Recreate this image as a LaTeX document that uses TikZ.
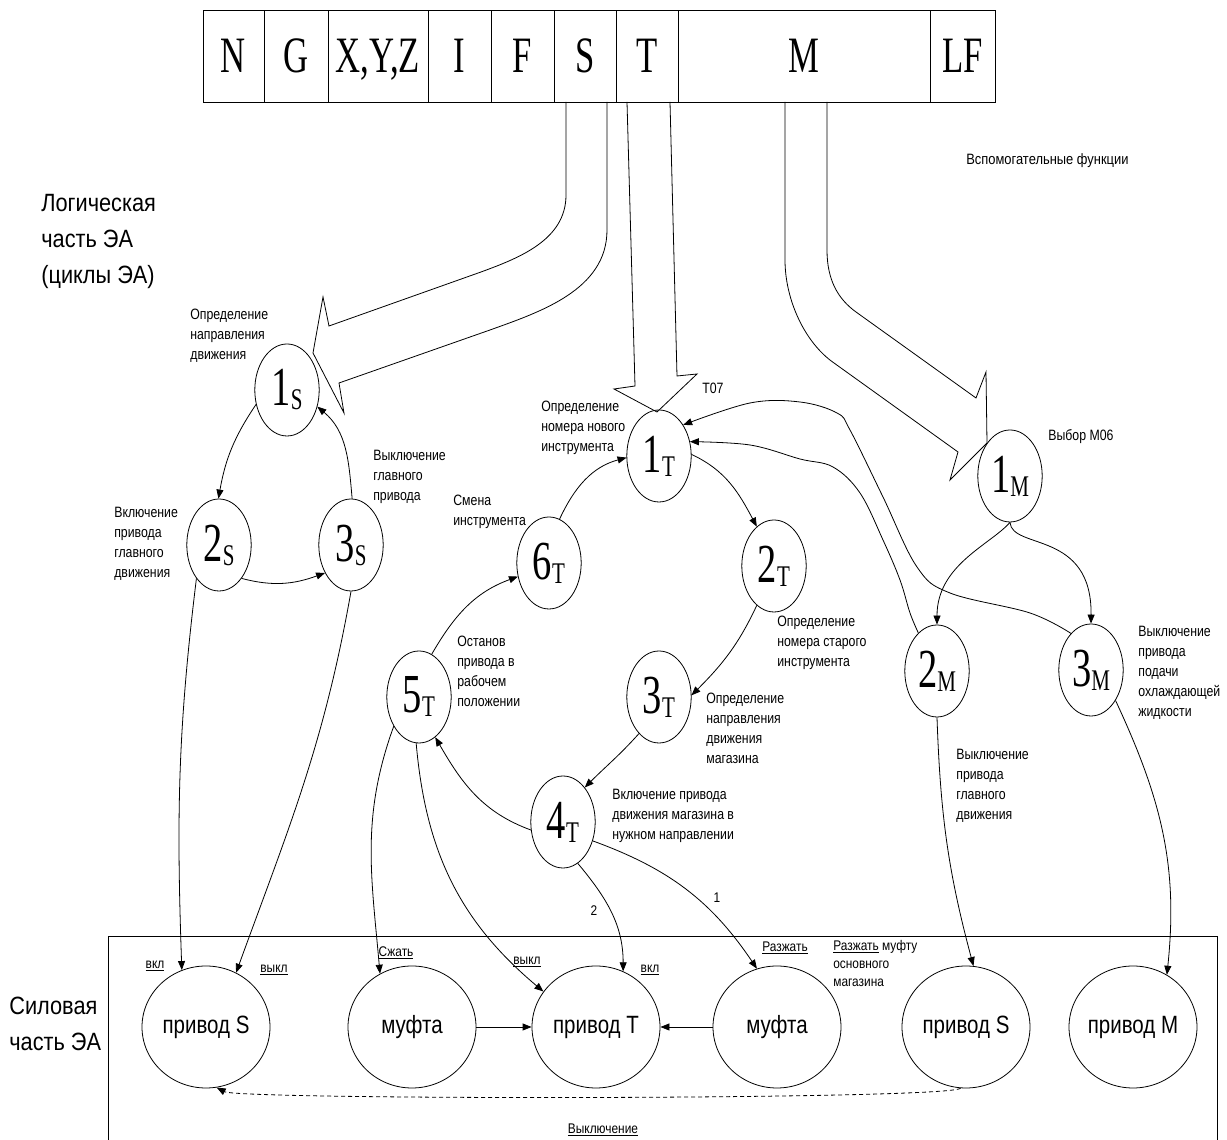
\documentclass[tikz,border=0pt]{standalone}
\usepackage{fontspec}
\setmainfont{Liberation Sans}
\newfontfamily\tnr{Liberation Serif}
\usetikzlibrary{arrows.meta,shapes.geometric}

% condensed text: \sqz{factor}{text}
\newcommand{\sqz}[2]{\scalebox{#1}[1]{#2}}
% state number with subscript letter
\newcommand{\stnum}[2]{{\tnr\fontsize{55}{55}\selectfont #1\fontsize{30}{30}\selectfont\raisebox{-4pt}{#2}}}

\begin{document}
\begin{tikzpicture}[x=1pt,y=1pt,line width=0.8pt,
  cell/.style={draw, minimum height=92pt, inner sep=0pt, text height=34pt, text depth=0pt,
    font=\tnr\fontsize{51}{51}\selectfont},
  state/.style={circle, draw, minimum size=92pt, inner sep=0pt, xscale=0.7},
  drive/.style={ellipse, draw, minimum width=128pt, minimum height=122pt, inner sep=0pt,
    text height=18pt, text depth=5pt, font=\fontsize{25}{25}\selectfont},
  note/.style={align=left, anchor=north west, inner sep=0pt, xscale=0.82,
    font=\fontsize{15}{20}\selectfont},
  tag/.style={inner sep=0pt, xscale=0.85, font=\fontsize{14}{18}\selectfont},
  big/.style={align=left, anchor=north west, inner sep=0pt, xscale=0.87,
    font=\fontsize{25}{36}\selectfont},
  link/.style={-{Triangle[length=9pt,width=7pt]}},
  block/.style={line join=miter},
]
\useasboundingbox[fill=white] (0,0) rectangle (1227,1140);

% ---------- frame word ----------
\node[cell, minimum width=61pt]  (cN) at (233.5,1084) {\sqz{0.68}{N}};
\node[cell, minimum width=64pt]  (cG) at (296,1084)   {\sqz{0.68}{G}};
\node[cell, minimum width=100pt] (cX) at (378,1084)   {\sqz{0.68}{X,Y,Z}};
\node[cell, minimum width=63pt]  (cI) at (459.5,1084) {\sqz{0.68}{I}};
\node[cell, minimum width=63pt]  (cF) at (522.5,1084) {\sqz{0.68}{F}};
\node[cell, minimum width=62pt]  (cS) at (585,1084)   {\sqz{0.68}{S}};
\node[cell, minimum width=62pt]  (cT) at (647,1084)   {\sqz{0.68}{T}};
\node[cell, minimum width=252pt] (cM) at (804,1084)   {\sqz{0.68}{M}};
\node[cell, minimum width=65pt]  (cL) at (962.5,1084) {\sqz{0.68}{LF}};

% ---------- block arrows from the word ----------
\draw[block] (566,1038) -- (566,945) .. controls (566,900) and (519,882) .. (481,868)
  -- (329,814) -- (323,843) -- (313,787) -- (344,727) -- (339,757) -- (490,810)
  .. controls (540,828) and (607,850) .. (607,910) -- (607,1038);
\draw[block] (627,1038) -- (635,754) -- (614,751) -- (657,728) -- (697,766) -- (677,764) -- (670,1038);
\draw[block] (785,1038) -- (785,880) .. controls (785,840) and (805,797) .. (834,777)
  -- (958,688) -- (950,660) -- (987,697) -- (986,768) -- (976,742) -- (856,828)
  .. controls (838,841) and (827,860) .. (827,890) -- (827,1038);

% ---------- side titles ----------
\node[big] (tLog) at (41,946) {Логическая\\часть ЭА\\(циклы ЭА)};
\node[big] (tPow) at (9,143) {Силовая\\часть ЭА};
\node[note] (tAux) at (966,987) {\sqz{1.05}{Вспомогательные функции}};

% ---------- S cycle ----------
\node[state] (s1) at (287,750) {\stnum{1}{S}};
\node[state] (s2) at (219,595) {\stnum{2}{S}};
\node[state] (s3) at (351,595) {\stnum{3}{S}};
\node[note] (ls1) at (190,831) {Определение\\направления\\движения};
\node[note] (ls3) at (373,690) {Выключение\\главного\\привода};
\node[note] (ls2) at (114,633) {Включение\\привода\\главного\\движения};

\draw[link] (s1.198) to[out=236,in=80] (s2.91);
\draw[link] (s2.314) to[out=-15,in=200] (s3.217);
\draw[link] (s3.88) to[out=95,in=-40] (s1.339);

% ---------- T cycle ----------
\node[state] (t1) at (659,684) {\stnum{1}{T}};
\node[state] (t2) at (774,574) {\stnum{2}{T}};
\node[state] (t3) at (659,443) {\stnum{3}{T}};
\node[state] (t4) at (563,318) {\stnum{4}{T}};
\node[state] (t5) at (419,443) {\stnum{5}{T}};
\node[state] (t6) at (549,577) {\stnum{6}{T}};
\node[note] (lt1) at (541,739) {Определение\\номера нового\\инструмента};
\node[note] (lt6) at (453,645) {Смена\\инструмента};
\node[note] (lt0) at (702,757) {T07};
\node[note] (lt2) at (777,524) {Определение\\номера старого\\инструмента};
\node[note] (lt5) at (457,504) {Останов\\привода в\\рабочем\\положении};
\node[note] (lt3) at (706,447) {Определение\\направления\\движения\\магазина};
\node[note] (lt4) at (612,351) {Включение привода\\движения магазина в\\нужном направлении};

\draw[link] (t1.2) to[out=-25,in=118] (t2.122);
\draw[link] (t2.238) to[out=-115,in=45] (t3.2);
\draw[link] (t3.232) to[out=228,in=45] (t4.48);
\draw[link] (t4.190) to[out=160,in=-60] (t5.300);
\draw[link] (t5.67) to[out=60,in=200] (t6.197);
\draw[link] (t6.71) to[out=65,in=195] (t1.182);

% ---------- M functions ----------
\node[state] (m1) at (1010,664) {\stnum{1}{M}};
\node[state] (m2) at (937,469) {\stnum{2}{M}};
\node[state] (m3) at (1091,470) {\stnum{3}{M}};
\node[note] (lm1) at (1048,711) {Выбор M06};
\node[note] (lm3) at (1138,514) {Выключение\\привода\\подачи\\охлаждающей\\жидкости};
\node[note] (lm2) at (956,391) {Выключение\\привода\\главного\\движения};

\draw[link] (m1.270) .. controls (990,595) and (937,575) .. (m2.90);
\draw[link] (m1.270) .. controls (1012,590) and (1092,610) .. (m3.90);
\draw[link] plot[smooth, tension=0.6] coordinates {(m2.125) (910,527) (900,560) (883,600)
  (860,647) (833,673) (800,681) (750,695) (t1.18)};
\draw[link] plot[smooth, tension=0.6] coordinates {(m3.128) (1030,527) (950,547) (917,573)
  (883,643) (850,710) (837,727) (800,738) (750,737) (t1.42)};

% ---------- power part ----------
\draw (108,0) -- (108,204) -- (1217,204) -- (1217,0);
\node[drive] (dS) at (206,113) {\sqz{0.82}{привод S}};
\node[drive] (mL) at (412,113) {\sqz{0.82}{муфта}};
\node[drive] (dT) at (596,113) {\sqz{0.82}{привод T}};
\node[drive] (mR) at (777,113) {\sqz{0.82}{муфта}};
\node[drive] (dR) at (966,113) {\sqz{0.82}{привод S}};
\node[drive] (dM) at (1133,113) {\sqz{0.82}{привод M}};

\node[tag] (g1) at (155,174) {\underline{вкл}};
\node[tag] (g2) at (274,170) {\underline{выкл}};
\node[tag] (g3) at (396,187) {\underline{Сжать}};
\node[tag] (g4) at (527,178) {\underline{выкл}};
\node[tag] (g5) at (650,170) {\underline{вкл}};
\node[tag] (g6) at (785,192) {\underline{Разжать}};
\node[tag, align=left, anchor=north west] (g7) at (833,200) {\underline{Разжать} муфту\\основного\\магазина};
\node[tag] (g8) at (603,10) {\underline{Выключение}};
\node[tag] (n1) at (717,242) {1};
\node[tag] (n2) at (594,229) {2};

\draw[link] (s2.226) to[out=263,in=92] (dS.113);
\draw[link] (s3.270) to[out=260,in=70] (dS.61);
\draw[link] (t5.219) to[out=250,in=95] (mL.121);
\draw[link] (t5.265) to[out=-85,in=140] (dT.146);
\draw[link] (t4.297) to[out=-50,in=90] (dT.64);
\draw[link] (t4.336) to[out=-20,in=124] (mR.109);
\draw[link] (m2.270) to[out=-88,in=105] (dR.83);
\draw[link] (m3.319) to[out=-65,in=84] (dM.57);
\draw[link] (mL.east) -- (dT.west);
\draw[link] (mR.west) -- (dT.east);
\draw[link, dashed, dash pattern=on 4pt off 3pt] (dR.-95) .. controls (950,40) and (240,40) .. (dS.-80);
\end{tikzpicture}
\end{document}
